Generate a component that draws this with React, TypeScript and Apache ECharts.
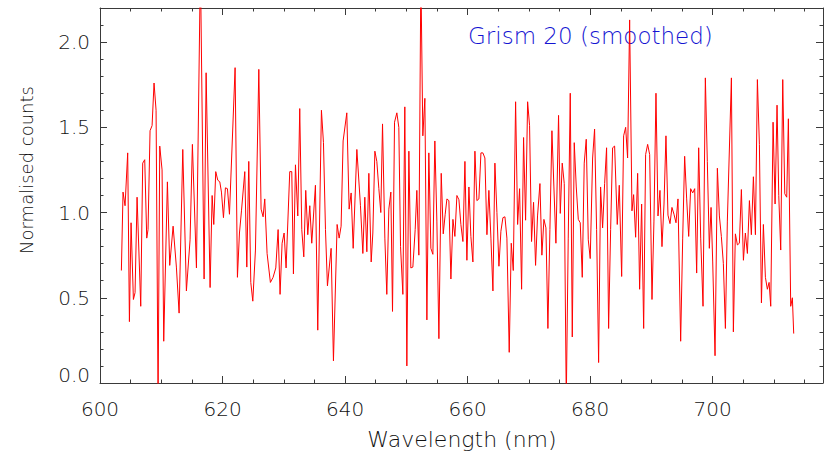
import React, { useEffect, useRef } from "react";
import * as echarts from "echarts";

const wavelengths: number[] = [
  603.49, 603.76, 604.09, 604.52, 604.80, 605.07, 605.45, 605.72, 606.05, 606.65,
  606.97, 607.30, 607.63, 607.84, 608.17, 608.50, 608.82, 609.15, 609.48,
  609.75, 610.13, 610.40, 611.00, 611.38, 611.93, 612.47, 612.91, 613.51, 614.10,
  614.70, 615.08, 615.74, 616.39, 616.99, 617.32, 617.97, 618.30, 618.57, 618.89,
  619.22, 619.55, 619.82, 620.15, 620.47, 620.80, 621.13, 622.05, 622.43, 622.76,
  623.09, 623.63, 623.96, 624.28, 624.61, 624.94, 625.37, 625.92,
  626.29, 626.62, 626.89, 627.27, 627.81, 628.25, 628.69, 629.07, 629.39, 629.72,
  630.05, 630.37, 630.97, 631.30, 631.57, 631.90, 632.28, 632.60, 632.93, 633.26,
  633.58, 633.91, 634.24, 634.56, 635.16, 635.54, 636.14, 636.47, 636.80, 637.12,
  637.72, 638.10, 638.70, 639.03, 639.35, 639.68, 640.28, 640.66,
  640.99, 641.32, 641.92, 642.51, 642.90, 643.22, 643.55, 643.88, 644.26, 644.53,
  644.86, 645.18, 645.51, 645.83, 646.11, 646.49, 646.81, 647.14, 647.47, 647.74,
  648.07, 648.45, 648.77, 649.05, 649.43, 649.75, 650.08, 650.41, 650.73, 651.06,
  651.44, 651.71, 652.04, 652.37, 652.69, 653.02, 653.35, 653.67, 654.00, 654.33,
  654.65, 654.98, 655.31,
  655.69, 656.02, 656.34, 656.62, 656.94, 657.27, 657.60, 657.92, 658.25, 658.58,
  658.90, 659.23, 659.56, 659.88, 660.21, 660.53, 660.86, 661.19, 661.51, 661.84,
  662.17, 662.49, 662.82, 663.15, 663.47, 663.80, 664.13, 664.45, 664.78, 665.11,
  665.43, 665.76, 666.09, 666.41, 666.79, 667.12, 667.45, 667.83, 668.16, 668.48,
  668.81, 669.13, 669.46, 669.79,
  670.11, 670.43, 670.76, 671.09, 671.41, 671.80, 672.12, 672.45, 672.78, 673.10,
  673.43, 673.76, 674.08, 674.41, 674.84, 675.12, 675.44, 675.77, 676.10, 676.42,
  676.75, 677.08, 677.40, 677.73, 678.06, 678.38, 678.71, 679.03, 679.36, 679.69,
  680.01, 680.40, 680.72, 681.05, 681.38, 681.70, 682.03, 682.36, 682.68, 683.01,
  683.34, 683.66, 683.99, 684.42, 684.75,
  685.14, 685.46, 685.79, 686.11, 686.44, 686.82, 687.09, 687.42, 687.75, 688.07,
  688.40, 688.73, 689.05, 689.38, 689.71, 690.09, 690.41, 690.74, 691.07, 691.39,
  691.72, 692.05, 692.37, 692.70, 693.03, 693.35, 693.68, 694.01, 694.33, 694.77,
  695.10, 695.42, 695.75, 696.08, 696.40, 696.73, 697.06, 697.38, 697.71, 698.04,
  698.42, 698.80, 699.12, 699.45,
  699.73, 700.00, 700.38, 700.76, 701.09, 701.41, 701.74, 702.07, 702.39, 703.05,
  703.37, 703.70, 704.03, 704.35, 704.68, 705.01, 705.33, 705.66, 705.99, 706.31,
  706.64, 706.97, 707.29, 707.62, 707.95, 708.27, 708.60, 708.92, 709.20, 709.47,
  709.85, 710.18, 710.50, 710.78, 711.10, 711.43, 711.76, 712.08, 712.35, 712.73,
  713.00, 713.22,
];

const counts: number[] = [
  0.66, 1.12, 1.04, 1.35, 0.36, 0.94, 0.49, 0.53, 1.09, 0.45,
  1.29, 1.31, 0.85, 0.90, 1.48, 1.51, 1.76, 1.60, -0.10,
  1.39, 1.25, 0.245, 1.18, 0.69, 0.92, 0.68, 0.41, 1.37, 0.54,
  0.84, 1.40, 0.675, 2.45, 0.61, 1.82, 0.56, 1.10, 0.93, 1.24,
  1.19, 1.18, 1.12, 0.97, 1.145, 1.14, 0.99, 1.85, 0.62, 0.88,
  1.01, 1.24, 0.68, 1.30, 0.59, 0.48, 0.78, 1.84,
  1.02, 0.975, 1.08, 0.76, 0.59, 0.62, 0.675, 0.90, 0.52, 0.82,
  0.88, 0.675, 1.24, 1.24, 0.64, 1.28, 0.98, 1.61, 0.90, 0.74,
  1.13, 0.87, 1.04, 0.82, 1.16, 0.31, 1.60, 1.41, 0.90, 0.57,
  0.79, 0.13, 0.93, 0.85, 0.92, 1.42, 1.585, 1.02,
  1.115, 0.79, 1.37, 1.04, 0.76, 1.09, 0.77, 1.23, 0.71, 0.88,
  1.36, 1.30, 1.14, 1.00, 1.52, 0.85, 0.52, 1.02, 1.12, 0.42,
  1.53, 1.585, 1.50, 0.80, 0.52, 1.62, 0.10, 1.36, 0.675, 0.68,
  0.90, 1.13, 0.75, 2.40, 1.45, 1.67, 0.37, 1.35, 0.79, 0.755,
  1.42, 0.95, 0.26,
  1.23, 0.875, 0.99, 1.08, 1.07, 0.61, 0.96, 0.86, 1.10, 1.075,
  0.93, 0.83, 1.30, 0.72, 1.15, 0.86, 0.71, 1.36, 1.07, 1.08,
  1.35, 1.35, 1.32, 0.87, 1.13, 0.85, 0.54, 1.29, 1.00, 0.685,
  0.89, 0.97, 0.975, 0.85, 0.18, 0.82, 0.66, 1.65, 0.93, 1.14,
  0.55, 1.44, 0.955, 1.65,
  1.51, 0.83, 1.06, 0.69, 0.98, 1.17, 0.75, 0.96, 0.91, 0.32,
  0.90, 1.48, 1.15, 0.82, 1.57, 0.995, 1.29, 1.17, -0.10, 0.85,
  1.70, 0.27, 1.41, 1.15, 0.96, 0.94, 0.62, 1.29, 1.43, 0.84,
  0.73, 1.32, 1.49, 0.90, 0.12, 1.15, 0.91, 1.17, 1.38, 0.32,
  0.90, 1.38, 1.39, 0.93, 1.16,
  0.625, 1.45, 1.50, 1.32, 2.13, 1.01, 1.105, 0.855, 1.23, 0.55,
  1.05, 0.32, 1.34, 1.40, 1.34, 0.49, 0.95, 1.70, 0.98, 1.13,
  0.80, 1.05, 1.45, 0.985, 0.935, 1.03, 0.99, 0.94, 1.08, 0.245,
  0.85, 1.33, 1.08, 0.86, 1.14, 1.115, 1.14, 0.645, 1.38, 0.85,
  0.45, 1.79, 1.30, 0.79,
  1.03, 0.71, 0.16, 1.26, 0.98, 0.86, 0.70, 0.32, 0.95, 1.79,
  0.30, 0.875, 0.81, 0.82, 1.135, 0.72, 0.88, 0.76, 1.07, 0.87,
  1.21, 0.87, 1.78, 1.40, 0.47, 0.93, 0.62, 0.55, 0.59, 0.45,
  1.53, 1.05, 1.63, 1.10, 0.78, 1.78, 1.11, 1.09, 1.55, 0.45,
  0.50, 0.29,
];

const xRange = [600, 718];
const yRange = [0, 2.2];
const title = "Grism 20 (smoothed)";
const xName = "Wavelength (nm)";
const yName = "Normalised counts";

const FONT = "DejaVu Sans";
const TEXT = "#111111";
const AXIS = "#3a3a3a";

export default function App() {
  const ref = useRef<HTMLDivElement>(null);
  useEffect(() => {
    if (!ref.current) return;
    const chart = echarts.init(ref.current, null, { renderer: "svg" });
    const data = wavelengths.map((w, i) => [w, counts[i]]);

    const xBase = (position: string, interval: number, len: number, labels: boolean, line: boolean) => ({
      type: "value",
      position,
      min: xRange[0],
      max: xRange[1],
      interval,
      gridIndex: 0,
      axisLine: { show: line, onZero: false, lineStyle: { color: AXIS, width: 1 } },
      axisTick: { show: true, inside: true, length: len, lineStyle: { color: AXIS, width: 1 } },
      splitLine: { show: false },
      axisLabel: labels
        ? {
            show: true,
            margin: 16,
            fontFamily: FONT,
            fontSize: 20,
            fontWeight: 300,
            color: TEXT,
            formatter: (v: number) => (Math.abs(v % 20) < 1e-6 ? String(v) : ""),
          }
        : { show: false },
    });

    const yBase = (position: string, interval: number, len: number, labels: boolean, line: boolean) => ({
      type: "value",
      position,
      min: yRange[0],
      max: yRange[1],
      interval,
      gridIndex: 0,
      axisLine: { show: line, onZero: false, lineStyle: { color: AXIS, width: 1 } },
      axisTick: { show: true, inside: true, length: len, lineStyle: { color: AXIS, width: 1 } },
      splitLine: { show: false },
      axisLabel: labels
        ? {
            show: true,
            margin: 10,
            fontFamily: FONT,
            fontSize: 20,
            fontWeight: 300,
            color: TEXT,
            formatter: (v: number) => {
              if (Math.abs(v * 2 - Math.round(v * 2)) > 1e-6) return "";
              if (Math.abs(v) < 1e-9) return "{z|0.0}";
              return v.toFixed(1);
            },
            rich: {
              z: { fontFamily: FONT, fontSize: 20, fontWeight: 300, color: TEXT, padding: [0, 0, 16, 0] },
            },
          }
        : { show: false },
    });

    chart.setOption({
      animation: false,
      backgroundColor: "#ffffff",
      grid: { left: 100, top: 8, width: 723, height: 375, containLabel: false },
      xAxis: [
        xBase("bottom", 20, 7, true, true),
        xBase("bottom", 5, 3.5, false, false),
        xBase("top", 20, 7, false, true),
        xBase("top", 5, 3.5, false, false),
      ],
      yAxis: [
        yBase("left", 0.5, 7, true, true),
        yBase("left", 0.1, 3.5, false, false),
        yBase("right", 0.5, 7, false, true),
        yBase("right", 0.1, 3.5, false, false),
      ],
      series: [
        {
          type: "line",
          xAxisIndex: 0,
          yAxisIndex: 0,
          data,
          showSymbol: false,
          symbol: "none",
          clip: true,
          lineStyle: { color: "#ff0000", width: 1 },
        },
      ],
      graphic: [
        {
          type: "text",
          x: 468,
          y: 36,
          style: {
            text: title,
            fontFamily: FONT,
            fontSize: 23,
            fontWeight: 300,
            fill: "#1414d2",
            textAlign: "left",
            textVerticalAlign: "middle",
          },
        },
        {
          type: "text",
          x: 462,
          y: 439,
          style: {
            text: xName,
            fontFamily: FONT,
            fontSize: 22,
            fontWeight: 300,
            fill: TEXT,
            textAlign: "center",
            textVerticalAlign: "middle",
          },
        },
        {
          type: "text",
          x: 26,
          y: 170,
          rotation: Math.PI / 2,
          style: {
            text: yName,
            fontFamily: FONT,
            fontSize: 18,
            fontWeight: 300,
            fill: TEXT,
            textAlign: "center",
            textVerticalAlign: "middle",
          },
        },
      ],
    });
    return () => chart.dispose();
  }, []);

  return (
    <div
      ref={ref}
      style={{ position: "fixed", left: 0, top: 0, width: 830, height: 459, background: "#fff" }}
    />
  );
}
